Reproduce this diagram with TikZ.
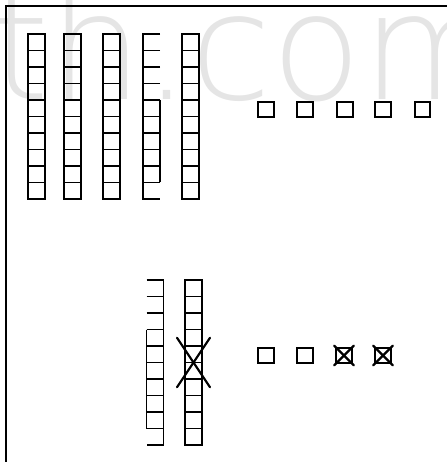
\documentclass[tikz,border=0pt]{standalone}
\usepackage{fontspec}
\usepackage{tikz}
\newfontfamily\markfont{DejaVu Sans ExtraLight}
\tikzset{
	cell/.style    ={rectangle, draw=black, line width=1.9pt, minimum width=17pt, minimum height=16.5pt, inner sep=0pt, outer sep=0pt},
	opencell/.style={rectangle, minimum width=17pt, minimum height=16.5pt, inner sep=0pt, outer sep=0pt},
	pad/.style     ={rectangle, draw=black, line width=1.9pt, minimum size=15.5pt, inner sep=0pt, outer sep=0pt},
	rim/.style     ={line width=1.9pt},
	crossline/.style={line width=2.2pt, line cap=round},
}

\begin{document}
\begin{tikzpicture}[x=1pt, y=-1pt]
	\useasboundingbox (0,0) rectangle (446,462);
	% faint watermark
	\node[text=black!10, font=\markfont\fontsize{148}{148}\selectfont, anchor=base west, inner sep=0pt] (mark) at (-9,100) {th.com};
	% frame
	\draw[line width=2pt] (5.5,470) -- (5.5,6.5) -- (450,6.5);

	% upper columns
	\foreach \c/\x in {1/36.5,2/72.5,3/111.5,5/190.5} {
		\foreach \r in {1,...,10} {
			\node[cell] (t\c-\r) at (\x,{42.25+16.5*(\r-1)}) {};
		}
	}
	\draw[line width=2.8pt] (t3-1.north west) -- (t3-9.south west);
	% column with a broken right side
	\foreach \r in {1,...,10} {
		\node[opencell] (t4-\r) at (151.5,{42.25+16.5*(\r-1)}) {};
		\draw[rim] (t4-\r.north east) -- (t4-\r.north west) -- (t4-\r.south west) -- (t4-\r.south east);
	}
	\draw[rim] (t4-5.north east) -- (t4-9.south east);

	% upper row of pads
	\foreach \k/\x in {1/266,2/305,3/345,4/383,5/422.5} {
		\node[pad] (u\k) at (\x,109.5) {};
	}

	% lower columns
	\foreach \r in {1,...,10} {
		\node[opencell] (b1-\r) at (155,{288.25+16.5*(\r-1)}) {};
		\draw[rim] (b1-\r.north west) -- (b1-\r.north east) -- (b1-\r.south east) -- (b1-\r.south west);
		\node[cell] (b2-\r) at (193.5,{288.25+16.5*(\r-1)}) {};
	}
	\draw[rim] (b1-4.north west) -- (b1-9.south west);
	\draw[crossline] ([xshift=-8pt]b2-4.west) -- ([xshift=8pt]b2-7.east);
	\draw[crossline] ([xshift=8pt]b2-4.east) -- ([xshift=-8pt]b2-7.west);

	% lower row of pads
	\foreach \k/\x in {1/266,2/305,3/344,4/383} {
		\node[pad] (l\k) at (\x,355.5) {};
	}
	\foreach \k in {3,4} {
		\draw[crossline] ([shift={(-2pt,2pt)}]l\k.north west) -- ([shift={(2pt,-2pt)}]l\k.south east);
		\draw[crossline] ([shift={(2pt,2pt)}]l\k.north east) -- ([shift={(-2pt,-2pt)}]l\k.south west);
	}
\end{tikzpicture}
\end{document}
